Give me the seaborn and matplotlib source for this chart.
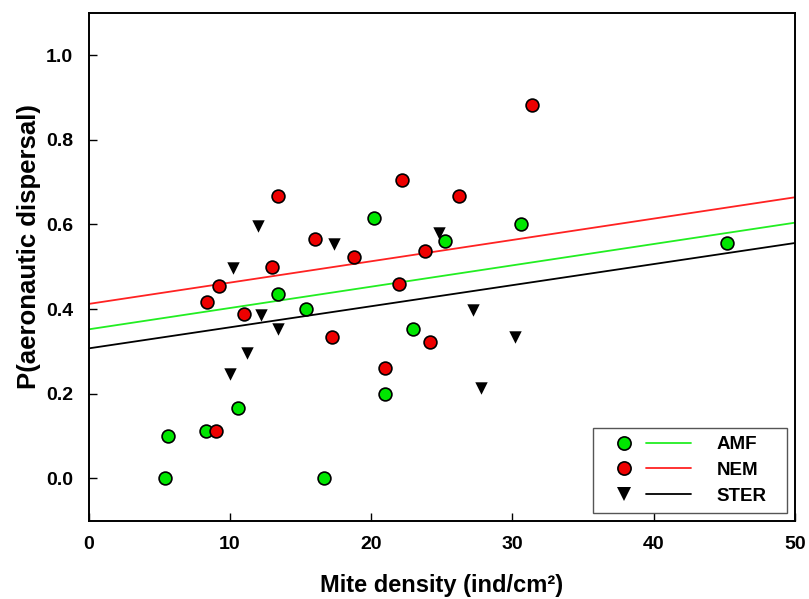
import matplotlib
matplotlib.use("Agg")
import matplotlib.pyplot as plt
import numpy as np
import pandas as pd
import seaborn as sns
from matplotlib.lines import Line2D
from matplotlib.legend_handler import HandlerTuple

# ---- data ----
groups = ["AMF", "NEM", "STER"]

amf_x = [5.4, 5.6, 8.3, 10.6, 13.4, 15.4, 16.7, 20.2, 21.0, 23.0, 25.2, 30.6, 45.2]
amf_y = [0.0, 0.10, 0.111, 0.166, 0.436, 0.40, 0.0, 0.616, 0.20, 0.354, 0.56, 0.60, 0.556]

nem_x = [8.4, 9.0, 9.2, 11.0, 13.0, 13.4, 16.0, 17.2, 18.8, 21.0, 22.0, 22.2, 23.8, 24.2, 26.2, 31.4]
nem_y = [0.416, 0.111, 0.455, 0.389, 0.50, 0.667, 0.566, 0.333, 0.522, 0.261, 0.458, 0.704, 0.538, 0.322, 0.667, 0.883]

ster_x = [10.0, 10.2, 11.2, 12.0, 12.2, 13.4, 17.4, 24.8, 27.2, 27.8, 30.2]
ster_y = [0.247, 0.497, 0.297, 0.595, 0.386, 0.353, 0.554, 0.579, 0.397, 0.214, 0.335]

# fitted lines (values at x = 0 and x = 50)
fit_x = [0, 50]
amf_fit = [0.352, 0.604]
nem_fit = [0.412, 0.664]
ster_fit = [0.307, 0.556]

x_ticks = [0, 10, 20, 30, 40, 50]
y_ticks = [0.0, 0.2, 0.4, 0.6, 0.8, 1.0]

# ---- styling ----
sns.set_style("ticks")
plt.rcParams["font.family"] = ["Liberation Sans", "DejaVu Sans"]
plt.rcParams["font.weight"] = "bold"
for k in ["text.color", "axes.labelcolor", "xtick.color", "ytick.color", "axes.edgecolor"]:
    plt.rcParams[k] = "black"

fill = {"AMF": "#00e600", "NEM": "#ee0000", "STER": "#000000"}
line_col = {"AMF": "#22ee22", "NEM": "#ff2222", "STER": "#000000"}
markers = {"AMF": "o", "NEM": "o", "STER": "v"}

pts = pd.concat([
    pd.DataFrame({"x": ster_x, "y": ster_y, "g": "STER"}),
    pd.DataFrame({"x": amf_x, "y": amf_y, "g": "AMF"}),
    pd.DataFrame({"x": nem_x, "y": nem_y, "g": "NEM"}),
], ignore_index=True)

fits = pd.concat([
    pd.DataFrame({"x": fit_x, "y": amf_fit, "g": "AMF"}),
    pd.DataFrame({"x": fit_x, "y": nem_fit, "g": "NEM"}),
    pd.DataFrame({"x": fit_x, "y": ster_fit, "g": "STER"}),
], ignore_index=True)

fig = plt.figure(figsize=(8.09, 5.99), dpi=100)
ax = fig.add_axes([0.1094, 0.1307, 0.8733, 0.8481])

sns.lineplot(data=fits, x="x", y="y", hue="g", palette=line_col, hue_order=groups,
             linewidth=1.3, legend=False, ax=ax, zorder=2)

for g in ["STER", "AMF", "NEM"]:
    sub = pts[pts.g == g]
    sns.scatterplot(data=sub, x="x", y="y", color=fill[g], marker=markers[g],
                    s=85 if g != "STER" else 80,
                    edgecolor="black", linewidth=1.2 if g != "STER" else 0,
                    legend=False, ax=ax, zorder=3)

ax.set_xlim(0, 50)
ax.set_ylim(-0.1, 1.1)
ax.set_xticks(x_ticks)
ax.set_xticklabels([str(v) for v in x_ticks])
ax.set_yticks(y_ticks)
ax.set_yticklabels([f"{v:.1f}" for v in y_ticks])
ax.tick_params(direction="in", length=6, width=1, labelsize=14, pad=11)
for lab in ax.get_xticklabels() + ax.get_yticklabels():
    lab.set_fontweight("bold")
for sp in ax.spines.values():
    sp.set_visible(True)
    sp.set_linewidth(1.4)
    sp.set_color("black")

ax.set_xlabel("Mite density (ind/cm²)", fontsize=17, fontweight="bold", labelpad=15)
ax.set_ylabel("P(aeronautic dispersal)", fontsize=18.5, fontweight="bold")
ax.yaxis.set_label_coords(-0.067, 0.539)

handles = []
for g in groups:
    mk = Line2D([], [], linestyle="none", marker=markers[g], markersize=9.5,
                markerfacecolor=fill[g], markeredgecolor="black",
                markeredgewidth=1.2 if g != "STER" else 0)
    ln = Line2D([], [], color=line_col[g], linewidth=1.3)
    handles.append((mk, ln))

leg = ax.legend(handles, groups, handler_map={tuple: HandlerTuple(ndivide=None, pad=0)},
                loc="lower left", bbox_to_anchor=(0.714, 0.0152, 0.2746, 0.17),
                mode="expand", fontsize=13.5,
                handlelength=4.8, handletextpad=1.35, labelspacing=0.45,
                borderpad=0.45, frameon=True, fancybox=False, framealpha=1,
                edgecolor="#555555", borderaxespad=0)
leg.get_frame().set_linewidth(1.0)
for t in leg.get_texts():
    t.set_fontweight("bold")

fig.savefig("out.png", dpi=100)
